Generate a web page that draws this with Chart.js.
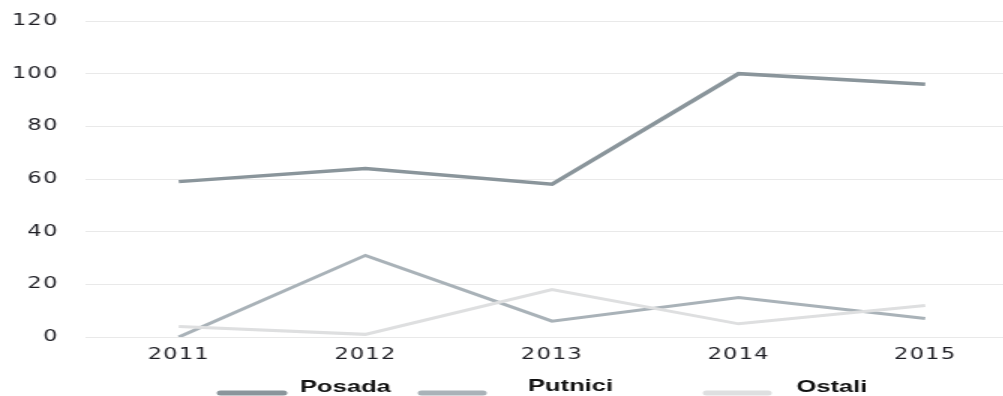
<!DOCTYPE html>
<html>
<head>
<meta charset="utf-8">
<script src="https://cdn.jsdelivr.net/npm/chart.js@4/dist/chart.umd.min.js"></script>
<style>
  html, body { margin: 0; padding: 0; background: #fff; overflow: hidden; width: 1003px; height: 396px; }
  /* chart is laid out narrow and stretched wide */
  #wrap { position: absolute; left: 0; top: 0; width: 679px; height: 396px; transform: scaleX(1.5); transform-origin: 0 0; }
  #crewChart { display: block; width: 679px; height: 396px; }
</style>
</head>
<body>
<div id="wrap"><canvas id="crewChart" width="679" height="396"></canvas></div>
<script>
const years = ['2011', '2012', '2013', '2014', '2015'];
const posada = [59, 64, 58, 100, 96];
const putnici = [0, 31, 6, 15, 7];
const ostali = [4, 1, 18, 5, 12];
const seriesNames = ['Posada', 'Putnici', 'Ostali'];
const seriesColors = ['#8a959b', '#a9b2b8', '#dedfe0'];

// legend: swatch line sits a bit below the label, label to its right
const legendItems = [
  { x0: 147, x1: 189, tx: 200, ty: 387 },
  { x0: 281, x1: 322, tx: 352, ty: 386 },
  { x0: 471, x1: 512, tx: 531, ty: 387 }
];

// slightly spaced tick digits
const tickSpacing = {
  id: 'tickSpacing',
  beforeInit(chart) { chart.ctx.letterSpacing = '0.8px'; },
  beforeDraw(chart) { chart.ctx.letterSpacing = '0.8px'; }
};

const bottomLegend = {
  id: 'bottomLegend',
  afterDraw(chart) {
    const ctx = chart.ctx;
    ctx.save();
    ctx.letterSpacing = '0px';
    legendItems.forEach((it, i) => {
      ctx.strokeStyle = seriesColors[i];
      ctx.lineWidth = 5;
      ctx.lineCap = 'round';
      ctx.beginPath();
      ctx.moveTo(it.x0, 393);
      ctx.lineTo(it.x1, 393);
      ctx.stroke();
      ctx.fillStyle = '#111';
      ctx.font = 'bold 17px "Liberation Sans", Arial, sans-serif';
      ctx.textBaseline = 'middle';
      ctx.textAlign = 'left';
      ctx.fillText(seriesNames[i], it.tx, it.ty);
    });
    ctx.restore();
  }
};

const ds = (label, data, color, width) => ({
  label: label,
  data: data,
  borderColor: color,
  backgroundColor: color,
  borderWidth: width,
  pointRadius: 0,
  pointHoverRadius: 0,
  tension: 0,
  fill: false
});

const tickFont = { family: '"DejaVu Sans", sans-serif', size: 15 };

const ctx = document.getElementById('crewChart').getContext('2d');
new Chart(ctx, {
  type: 'line',
  data: {
    labels: years,
    datasets: [
      ds(seriesNames[2], ostali, seriesColors[2], 3),
      ds(seriesNames[1], putnici, seriesColors[1], 3),
      ds(seriesNames[0], posada, seriesColors[0], 3.5)
    ]
  },
  options: {
    responsive: false,
    devicePixelRatio: 1,
    animation: false,
    layout: { padding: { top: 21, bottom: 0, left: 0, right: 0 } },
    plugins: {
      legend: { display: false },
      tooltip: { enabled: false }
    },
    scales: {
      x: {
        offset: true,
        grid: { display: false, drawTicks: false },
        border: { display: false },
        ticks: { color: '#1e1e24', padding: 9, font: tickFont },
        afterFit(scale) { scale.height = 59; }
      },
      y: {
        min: 0,
        max: 120,
        grid: { color: '#e9e9e9', lineWidth: 1, drawTicks: false },
        border: { display: false },
        ticks: { stepSize: 20, color: '#1e1e24', padding: 18, font: tickFont },
        afterFit(scale) {
          scale.width = 57;
          // keep the label padding from pushing the plot area down
          scale.paddingTop = 8;
          scale.paddingBottom = 8;
        }
      }
    }
  },
  plugins: [tickSpacing, bottomLegend]
});
</script>
</body>
</html>
